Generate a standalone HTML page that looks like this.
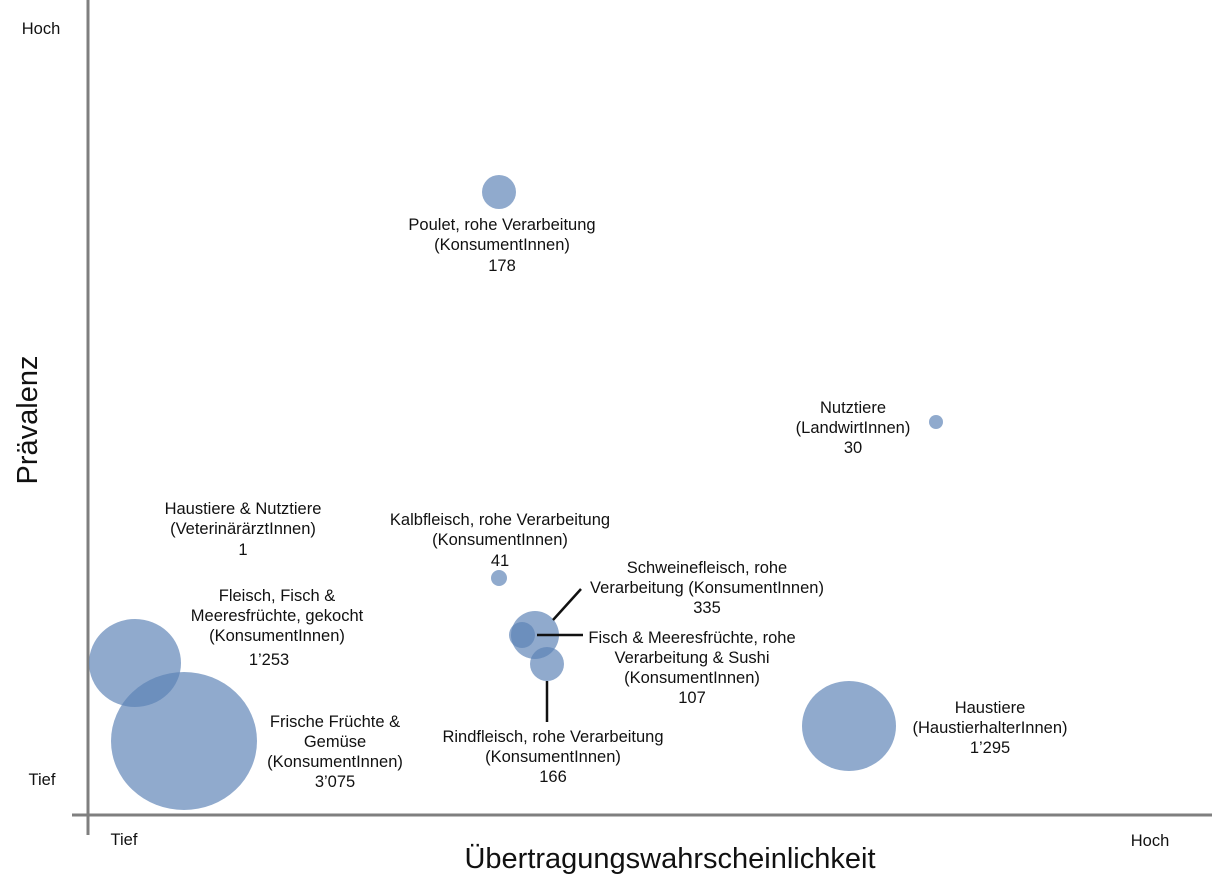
<!DOCTYPE html>
<html><head><meta charset="utf-8"><style>
html,body{margin:0;padding:0;background:#fff;}
svg{display:block;font-family:"Liberation Sans",Arial,sans-serif;}
</style></head><body>
<svg width="1212" height="893" viewBox="0 0 1212 893" xmlns="http://www.w3.org/2000/svg">
<rect width="1212" height="893" fill="#fff"/>
<line x1="88" y1="0" x2="88" y2="835" stroke="#7f7f7f" stroke-width="3"/>
<line x1="72" y1="815" x2="1212" y2="815" stroke="#7f7f7f" stroke-width="3"/>
<g font-size="16.5" fill="#111">
<text x="41" y="34" text-anchor="middle">Hoch</text>
<text x="42" y="785" text-anchor="middle">Tief</text>
<text x="124" y="845" text-anchor="middle">Tief</text>
<text x="1150" y="846" text-anchor="middle">Hoch</text>
</g>
<text x="670" y="868" text-anchor="middle" font-size="29" fill="#111">Übertragungswahrscheinlichkeit</text>
<text transform="translate(37,420) rotate(-90)" text-anchor="middle" font-size="29" fill="#111">Prävalenz</text>
<g fill="#5b82b5" fill-opacity="0.68">
<circle cx="499" cy="192" r="17"/>
<circle cx="936" cy="422" r="7"/>
<circle cx="499" cy="578" r="8"/>
<circle cx="535" cy="635" r="24"/>
<circle cx="522" cy="635" r="13"/>
<circle cx="547" cy="664" r="17"/>
<ellipse cx="135" cy="663" rx="46" ry="44"/>
<ellipse cx="184" cy="741" rx="73" ry="69"/>
<ellipse cx="849" cy="726" rx="47" ry="45"/>
</g>
<g stroke="#111" stroke-width="2.5">
<line x1="553" y1="620" x2="581" y2="589"/>
<line x1="537" y1="635" x2="583" y2="635"/>
<line x1="547" y1="681" x2="547" y2="722"/>
</g>
<g font-size="16.5" fill="#111" text-anchor="middle">
<text x="502" y="230">Poulet, rohe Verarbeitung</text>
<text x="502" y="250">(KonsumentInnen)</text>
<text x="502" y="271">178</text>
<text x="853" y="413">Nutztiere</text>
<text x="853" y="433">(LandwirtInnen)</text>
<text x="853" y="453">30</text>
<text x="243" y="514">Haustiere &amp; Nutztiere</text>
<text x="243" y="534">(VeterinärärztInnen)</text>
<text x="243" y="555">1</text>
<text x="500" y="525">Kalbfleisch, rohe Verarbeitung</text>
<text x="500" y="545">(KonsumentInnen)</text>
<text x="500" y="566">41</text>
<text x="707" y="573">Schweinefleisch, rohe</text>
<text x="707" y="593">Verarbeitung (KonsumentInnen)</text>
<text x="707" y="613">335</text>
<text x="692" y="643">Fisch &amp; Meeresfrüchte, rohe</text>
<text x="692" y="663">Verarbeitung &amp; Sushi</text>
<text x="692" y="683">(KonsumentInnen)</text>
<text x="692" y="703">107</text>
<text x="553" y="742">Rindfleisch, rohe Verarbeitung</text>
<text x="553" y="762">(KonsumentInnen)</text>
<text x="553" y="782">166</text>
<text x="277" y="601">Fleisch, Fisch &amp;</text>
<text x="277" y="621">Meeresfrüchte, gekocht</text>
<text x="277" y="641">(KonsumentInnen)</text>
<text x="269" y="665">1’253</text>
<text x="335" y="727">Frische Früchte &amp;</text>
<text x="335" y="747">Gemüse</text>
<text x="335" y="767">(KonsumentInnen)</text>
<text x="335" y="787">3’075</text>
<text x="990" y="713">Haustiere</text>
<text x="990" y="733">(HaustierhalterInnen)</text>
<text x="990" y="753">1’295</text>
</g>
</svg>
</body></html>
